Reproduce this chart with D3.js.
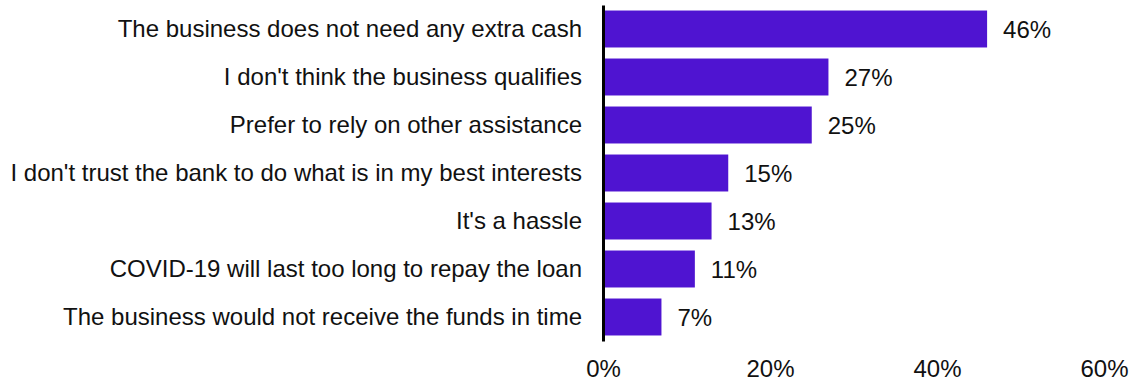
<!DOCTYPE html>
<html>
<head>
<meta charset="utf-8">
<script src="https://cdn.jsdelivr.net/npm/d3@7"></script>
<style>
  html, body { margin: 0; padding: 0; background: #fff; }
  svg { display: block; font-family: "Liberation Sans", Arial, sans-serif; }
</style>
</head>
<body>
<svg id="chart" width="1135" height="385"></svg>
<script>
// Reasons given for not taking up the loan
const categories = [
  "The business does not need any extra cash",
  "I don't think the business qualifies",
  "Prefer to rely on other assistance",
  "I don't trust the bank to do what is in my best interests",
  "It's a hassle",
  "COVID-19 will last too long to repay the loan",
  "The business would not receive the funds in time"
];
const values = [46, 27, 25, 15, 13, 11, 7];
const tickValues = [0, 20, 40, 60];

const svg = d3.select("#chart");
const barColor = "#4f14d1";
const textColor = "#111";
const fontSize = 24;

const x = d3.scaleLinear().domain([0, 60]).range([603, 1104]);
const y = d3.scaleBand()
  .domain(categories)
  .range([5, 341])
  .paddingInner(0.23)
  .paddingOuter(0.115);

// bars
svg.append("g")
  .selectAll("rect")
  .data(values)
  .join("rect")
  .attr("x", x(0))
  .attr("y", (d, i) => y(categories[i]))
  .attr("width", d => x(d) - x(0))
  .attr("height", y.bandwidth())
  .attr("fill", barColor);

// value labels
svg.append("g")
  .selectAll("text")
  .data(values)
  .join("text")
  .attr("x", d => x(d) + 16)
  .attr("y", (d, i) => y(categories[i]) + y.bandwidth() / 2)
  .attr("dy", "0.36em")
  .attr("font-size", fontSize)
  .attr("fill", textColor)
  .text(d => d + "%");

// category axis
const yAxis = svg.append("g")
  .attr("transform", `translate(${x(0)},0)`)
  .call(d3.axisLeft(y).tickSize(0).tickPadding(21));
yAxis.select(".domain").attr("stroke", "#000").attr("stroke-width", 3);
yAxis.selectAll("text")
  .attr("font-size", fontSize)
  .attr("font-family", "'Liberation Sans', Arial, sans-serif")
  .attr("fill", textColor);

// value axis (labels only)
const xAxis = svg.append("g")
  .attr("transform", "translate(0,360)")
  .call(d3.axisBottom(x).tickValues(tickValues).tickFormat(d => d + "%").tickSize(0).tickPadding(0));
xAxis.select(".domain").remove();
xAxis.selectAll("text")
  .attr("font-size", fontSize)
  .attr("font-family", "'Liberation Sans', Arial, sans-serif")
  .attr("fill", textColor);
</script>
</body>
</html>
